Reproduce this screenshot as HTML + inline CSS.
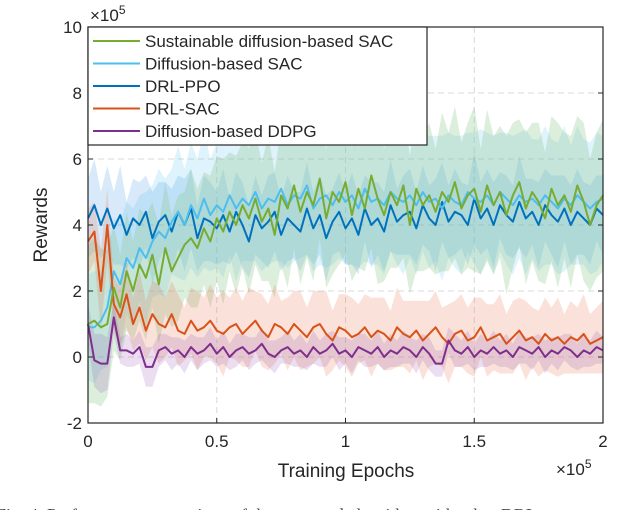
<!DOCTYPE html>
<html><head><meta charset="utf-8"><style>
html,body{margin:0;padding:0;background:#fff;width:640px;height:510px;overflow:hidden}
svg text{font-family:"Liberation Sans",sans-serif;fill:#262626}
</style></head><body>
<svg id="chart" width="640" height="510" viewBox="0 0 640 510" xmlns="http://www.w3.org/2000/svg">
<g id="grid"></g>
<g id="bands"></g>
<g id="lines"></g>
<g id="axes"></g>
<g id="legend"></g>
<text x="-4" y="521" style="font-family:'Liberation Serif',serif;font-size:18px;fill:#444">Fig. 4. Performance comparison of the proposed algorithm with other DRL</text>
</svg>
<script>
const xTicks=[0,0.5,1,1.5,2];
const xTickLabels=["0","0.5","1","1.5","2"];
const yTicks=[-2,0,2,4,6,8,10];
const yTickLabels=["-2","0","2","4","6","8","10"];
const seriesNames=["Sustainable diffusion-based SAC","Diffusion-based SAC","DRL-PPO","DRL-SAC","Diffusion-based DDPG"];
const xStep=0.025;
const greenVals=[1.0,1.1,0.9,1.0,2.1,1.5,2.6,2.0,2.8,2.4,3.1,2.2,3.3,2.6,3.0,3.4,3.6,3.3,3.9,3.5,4.2,3.8,4.4,4.0,4.6,4.2,4.8,4.1,4.5,3.7,4.9,4.5,5.2,4.4,5.0,4.6,5.4,4.2,5.0,4.7,5.3,4.3,5.1,4.5,5.5,4.8,4.3,5.0,4.6,5.2,4.0,5.1,4.6,4.9,4.4,5.0,4.7,5.3,4.5,4.9,5.1,4.4,5.2,4.6,5.0,4.3,4.9,5.3,4.5,5.0,4.7,4.2,5.1,4.6,4.9,4.4,5.2,4.7,4.0,4.6,4.9];
const lightBlueVals=[0.9,0.9,1.1,1.5,2.6,2.2,3.0,2.7,3.3,3.0,3.5,3.8,3.6,4.1,4.4,4.0,4.6,4.2,4.8,4.3,4.6,4.4,4.9,4.5,4.8,4.6,5.0,4.5,4.8,4.7,5.1,4.6,4.9,4.8,5.2,4.5,4.8,4.9,4.6,5.0,4.7,4.9,4.5,5.1,4.7,4.8,4.6,5.0,4.8,4.7,4.9,4.6,5.0,4.7,4.8,4.5,4.9,4.7,4.6,5.0,4.8,4.7,4.9,4.6,5.0,4.8,4.6,4.9,4.7,4.8,4.6,4.9,4.7,4.5,4.8,4.6,4.9,4.7,4.5,4.7,4.8];
const ppoVals=[4.2,4.6,4.0,4.5,3.9,4.3,3.7,4.2,4.0,4.4,3.6,4.1,4.3,3.8,4.4,4.0,4.5,3.6,4.2,4.1,3.9,4.3,3.8,4.4,4.0,3.5,4.3,3.9,4.1,4.4,3.7,4.2,4.0,3.8,4.5,3.9,4.3,3.6,4.1,4.4,3.9,4.2,3.7,4.5,4.0,4.2,3.8,4.6,4.1,4.3,4.4,3.9,4.6,4.2,4.0,4.7,4.1,4.4,4.3,4.0,4.8,4.2,4.5,4.0,4.6,4.3,4.1,4.7,4.2,4.4,4.0,4.6,4.3,4.1,4.5,4.0,4.4,4.2,4.0,4.5,4.3];
const sacVals=[3.5,3.8,2.0,4.0,1.6,1.2,1.9,1.0,1.5,0.8,1.3,1.0,0.9,1.3,0.8,0.7,1.1,0.8,0.9,1.1,0.8,0.7,0.9,1.0,0.7,0.9,1.1,0.8,0.6,1.0,0.9,0.7,1.0,0.8,0.6,0.9,1.0,0.7,0.5,0.9,0.8,0.6,0.7,0.9,0.6,0.8,0.7,0.5,0.9,0.7,0.6,0.8,0.5,0.7,0.9,0.6,0.4,0.7,0.8,0.5,0.6,0.9,0.5,0.6,0.7,0.4,0.6,0.8,0.5,0.6,0.4,0.7,0.5,0.6,0.4,0.6,0.5,0.7,0.4,0.5,0.6];
const ddpgVals=[1.0,-0.1,-0.2,-0.2,1.2,0.2,0.2,0.1,0.3,-0.3,-0.3,0.2,0.3,0.1,0.2,0.0,0.3,0.1,0.2,0.4,0.1,0.3,0.0,0.2,0.3,0.1,0.2,0.4,0.1,0.0,0.2,0.3,0.1,0.2,0.0,0.3,0.1,0.2,0.4,0.1,0.2,0.0,0.3,0.2,0.1,0.3,0.0,0.2,0.1,0.3,0.2,0.0,0.3,0.1,-0.2,-0.2,0.5,0.2,0.1,0.3,0.0,0.2,0.1,0.3,0.1,0.2,0.0,0.3,0.2,0.1,0.3,0.0,0.2,0.1,0.3,0.2,0.0,0.2,0.1,0.3,0.2];
const greenSpread=[2.4,2.5,2.4,2.2,1.9,1.6,1.8,1.5,1.7,1.9,1.6,1.8,2.0,1.7,1.9,1.6,2.1,1.8,1.7,2.0,1.9,2.2,1.8,2.1,1.9,2.3,2.0,1.8,2.2,1.9,2.1,2.4,1.9,2.2,2.0,2.3,1.8,2.1,2.5,1.9,2.2,2.0,2.4,1.9,2.2,2.6,2.0,2.3,1.9,2.2,2.1,2.5,2.0,2.2,1.9,2.4,2.1,2.3,2.0,2.2,2.5,1.9,2.3,2.1,2.0,2.4,2.2,1.9,2.3,2.1,2.4,2.0,2.2,2.5,1.9,2.3,2.1,2.4,2.0,2.2,2.3];
const lightBlueSpread=[1.6,1.7,1.5,1.8,1.6,1.9,1.7,1.8,1.6,2.0,1.7,1.9,1.8,1.6,2.0,1.7,1.9,1.8,2.1,1.7,1.9,2.0,1.8,2.2,1.9,1.7,2.1,1.9,2.0,1.8,2.2,1.9,2.0,1.8,2.1,1.9,2.0,2.2,1.8,2.0,1.9,2.1,1.8,2.2,1.9,2.0,2.1,1.8,2.0,2.2,1.9,2.1,1.8,2.0,1.9,2.2,1.9,2.0,2.1,1.8,2.0,2.2,1.9,2.1,1.8,2.0,2.1,1.9,2.2,1.8,2.0,2.1,1.9,2.0,2.2,1.8,2.1,1.9,2.0,2.1,1.9];
const ppoSpread=[1.2,1.4,1.0,1.3,1.1,1.5,1.0,1.2,1.3,1.1,1.4,1.2,1.0,1.3,1.1,1.4,1.2,1.0,1.3,1.2,1.1,1.4,1.0,1.2,1.3,1.1,1.2,1.0,1.4,1.2,1.1,1.3,1.0,1.2,1.4,1.1,1.2,1.3,1.0,1.2,1.1,1.4,1.2,1.0,1.3,1.1,1.2,1.4,1.0,1.2,1.3,1.1,1.2,1.0,1.4,1.2,1.1,1.3,1.0,1.2,1.4,1.1,1.2,1.3,1.0,1.2,1.1,1.4,1.2,1.0,1.3,1.1,1.2,1.4,1.0,1.2,1.3,1.1,1.2,1.0,1.2];
const sacSpread=[1.0,0.9,1.2,1.1,0.8,0.9,1.0,0.8,1.1,0.9,1.0,1.2,0.9,1.0,1.1,0.8,1.0,1.2,0.9,1.1,1.0,1.3,0.9,1.1,1.0,1.2,0.9,1.1,1.0,1.2,0.8,1.1,1.0,1.2,0.9,1.1,1.0,1.3,0.9,1.0,1.1,1.2,0.9,1.0,1.2,1.0,1.1,0.9,1.2,1.0,1.1,0.9,1.2,1.0,1.1,0.9,1.2,1.0,1.1,1.0,1.2,0.9,1.1,1.0,1.2,0.9,1.1,1.0,1.2,0.9,1.0,1.1,1.0,1.2,0.9,1.1,1.0,1.2,0.9,1.0,1.1];
const ddpgSpread=[0.6,0.8,0.9,0.8,0.5,0.4,0.5,0.4,0.5,0.6,0.6,0.5,0.4,0.5,0.4,0.5,0.4,0.5,0.4,0.5,0.4,0.5,0.4,0.5,0.4,0.5,0.4,0.5,0.4,0.5,0.4,0.5,0.4,0.5,0.4,0.5,0.4,0.5,0.4,0.5,0.4,0.5,0.4,0.5,0.4,0.5,0.4,0.5,0.4,0.5,0.4,0.5,0.4,0.5,0.4,0.4,0.4,0.5,0.4,0.5,0.4,0.5,0.4,0.5,0.4,0.5,0.4,0.5,0.4,0.5,0.4,0.5,0.4,0.5,0.4,0.5,0.4,0.5,0.4,0.5,0.4];

const NS='http://www.w3.org/2000/svg';
const L=88,R=603,T=27,B=423;
function xs(v){return L+(v-0)/(2-0)*(R-L);}
function ys(v){return B-(v+2)/(12)*(B-T);}
function mk(tag,attrs,parent){const e=document.createElementNS(NS,tag);for(const k in attrs)e.setAttribute(k,attrs[k]);parent.appendChild(e);return e;}
const grid=document.getElementById('grid'),bands=document.getElementById('bands'),lines=document.getElementById('lines'),axes=document.getElementById('axes'),legend=document.getElementById('legend');

xTicks.forEach((t,i)=>{
  const g=mk('line',{x1:xs(t),x2:xs(t),y1:T,y2:B,stroke:'#d9d9d9','stroke-width':1,'stroke-dasharray':'6,4'},grid);
  
  
  const tk=mk('line',{x1:xs(t),x2:xs(t),y1:B,y2:B-5,stroke:'#262626'},axes);
  
  
  const tx=mk('text',{x:xs(t),y:B+24,'text-anchor':'middle','font-size':17},axes);
  tx.textContent=xTickLabels[i];
  
  
});
yTicks.forEach((t,i)=>{
  const g=mk('line',{x1:L,x2:R,y1:ys(t),y2:ys(t),stroke:'#d9d9d9','stroke-width':1,'stroke-dasharray':'6,4'},grid);
  
  
  const tk=mk('line',{x1:L,x2:L+5,y1:ys(t),y2:ys(t),stroke:'#262626'},axes);
  
  
  const tk2=mk('line',{x1:R,x2:R-5,y1:ys(t),y2:ys(t),stroke:'#262626'},axes);
  
  
  const tx=mk('text',{x:L-6,y:ys(t)+6,'text-anchor':'end','font-size':17},axes);
  tx.textContent=yTickLabels[i];
  
  
});

const series=[
 {vals:ppoVals,spread:ppoSpread,color:'#0072BD',band:'rgba(77,160,230,0.22)',name:'ppo'},
 {vals:lightBlueVals,spread:lightBlueSpread,color:'#4DBEEE',band:'rgba(77,190,238,0.18)',name:'diffusion-sac'},
 {vals:greenVals,spread:greenSpread,color:'#77AC30',band:'rgba(140,200,140,0.3)',name:'sustainable-sac'},
 {vals:sacVals,spread:sacSpread,color:'#D95319',band:'rgba(230,120,80,0.22)',name:'drl-sac'},
 {vals:ddpgVals,spread:ddpgSpread,color:'#7E2F8E',band:'rgba(150,90,180,0.2)',name:'ddpg'}
];
series.forEach(s=>{
  let up='',lo='';
  s.vals.forEach((v,i)=>{up+=(i?'L':'M')+xs(i*xStep).toFixed(1)+','+ys(v+s.spread[i]).toFixed(1);});
  for(let i=s.vals.length-1;i>=0;i--){lo+='L'+xs(i*xStep).toFixed(1)+','+ys(s.vals[i]-s.spread[i]).toFixed(1);}
  const b=mk('path',{d:up+lo+'Z',fill:s.band,stroke:'none'},bands);
  
  
});
const drawOrder=[0,1,3,4,2];
drawOrder.forEach(k=>{
  const s=series[k];
  const pts=s.vals.map((v,i)=>xs(i*xStep).toFixed(1)+','+ys(v).toFixed(1)).join(' ');
  const p=mk('polyline',{points:pts,fill:'none',stroke:s.color,'stroke-width':2,'stroke-linejoin':'round'},lines);
  
  
});

const box=mk('rect',{x:L,y:T,width:R-L,height:B-T,fill:'none',stroke:'#262626','stroke-width':1.2},axes);


const ex1=mk('text',{x:L+2,y:T-6,'font-size':17},axes);
ex1.innerHTML='×10<tspan dy="-7" font-size="12">5</tspan>';


const ex2=mk('text',{x:556,y:475,'font-size':17},axes);
ex2.innerHTML='×10<tspan dy="-7" font-size="12">5</tspan>';


const xl=mk('text',{x:346,y:477,'text-anchor':'middle','font-size':19},axes);
xl.textContent='Training Epochs';


const yl=mk('text',{x:0,y:0,'text-anchor':'middle','font-size':19,transform:'translate(47,225) rotate(-90)'},axes);
yl.textContent='Rewards';



const lb=mk('rect',{x:L,y:T,width:339,height:118,fill:'#fff',stroke:'#262626','stroke-width':1.2},legend);


const legColors=['#77AC30','#4DBEEE','#0072BD','#D95319','#7E2F8E'];
seriesNames.forEach((n,i)=>{
  const y=T+14+i*22.5;
  const ln=mk('line',{x1:93,x2:140,y1:y,y2:y,stroke:legColors[i],'stroke-width':2},legend);
  
  
  const t=mk('text',{x:145,y:y+6,'font-size':17},legend);
  t.textContent=n;
  
  
});
</script>
</body></html>
